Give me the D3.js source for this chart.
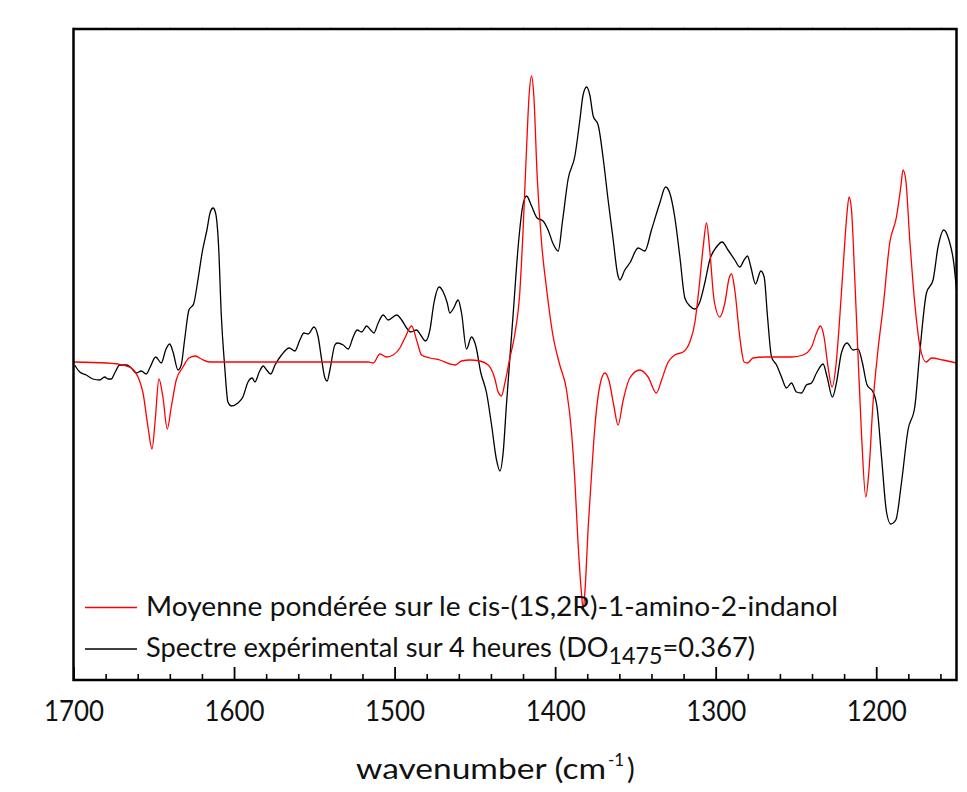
<!DOCTYPE html>
<html>
<head>
<meta charset="utf-8">
<script src="https://cdn.jsdelivr.net/npm/d3@7"></script>
<style>
  html, body { margin: 0; padding: 0; background: #fff; }
  text { font-family: Lato, "Open Sans", sans-serif; fill: #111; }
</style>
</head>
<body>
<svg id="chart" width="967" height="792"></svg>
<script>
// ---------------- DATA ----------------
const xTickValues = [1700, 1600, 1500, 1400, 1300, 1200];
const xTickLabels = ["1700", "1600", "1500", "1400", "1300", "1200"];
const xMinorTicks = d3.range(1700, 1149, -20);

const seriesNames = [
  "Moyenne pondérée sur le cis-(1S,2R)-1-amino-2-indanol",
  "Spectre expérimental sur 4 heures (DO"
];

// calculated weighted mean spectrum (red)
const redWavenumber = [
  1700, 1679.6, 1669.2, 1664.0, 1659.8, 1656.7, 1653.6, 1651.1, 1649.1, 1646.8,
  1644.3, 1641.6, 1639.1, 1636.0, 1631.8, 1628.1, 1623.9, 1620.4, 1615.2, 1516.4,
  1513.3, 1509.1, 1505.0, 1500.9, 1496.7, 1493.6, 1489.4, 1486.3, 1483.2, 1478.0,
  1471.8, 1465.6, 1462.4, 1458.3, 1453.1, 1446.9, 1441.7, 1437.5, 1435.5, 1433.4,
  1431.3, 1428.2, 1425.1, 1422.0, 1419.9, 1417.8, 1416.2, 1414.7, 1413.3, 1411.2,
  1408.5, 1405.4, 1401.2, 1397.1, 1392.9, 1389.8, 1387.7, 1385.7, 1383.6, 1382.6,
  1381.5, 1379.4, 1377.3, 1375.3, 1372.2, 1369.0, 1366.4, 1363.4, 1360.8, 1357.6,
  1353.5, 1347.2, 1342.1, 1336.9, 1333.7, 1329.6, 1325.5, 1320.3, 1316.1, 1313.0,
  1310.5, 1307.8, 1305.7, 1303.7, 1301.0, 1297.4, 1294.3, 1291.6, 1290.1, 1288.1,
  1285.0, 1282.3, 1280.2, 1276.7, 1269.4, 1252.8, 1245.6, 1240.3, 1237.2, 1234.7,
  1232.5, 1230.0, 1227.5, 1225.2, 1222.7, 1220.2, 1218.2, 1216.9, 1215.4, 1213.4,
  1211.3, 1209.2, 1206.5, 1204.5, 1202.0, 1198.9, 1195.7, 1191.6, 1187.4, 1184.7,
  1183.3, 1181.6, 1179.1, 1176.0, 1172.9, 1168.9, 1165.6, 1158.4, 1150.0
];
const redValues = [
  -0.001, -0.002, -0.004, -0.007, -0.016, -0.032, -0.066, -0.088, -0.059, -0.018,
  -0.036, -0.068, -0.046, -0.019, -0.006, 0.003, 0.005, 0.002, -0.001, -0.001,
  -0.002, 0.007, 0.004, 0.006, 0.013, 0.023, 0.035, 0.021, 0.006, 0.003,
  0.001, -0.003, -0.004, 0.000, 0.001, 0.000, -0.004, -0.018, -0.031, -0.035,
  -0.022, 0.003, 0.027, 0.069, 0.133, 0.213, 0.266, 0.285, 0.266, 0.185,
  0.119, 0.073, 0.024, -0.004, -0.029, -0.071, -0.120, -0.183, -0.232, -0.248,
  -0.232, -0.166, -0.113, -0.067, -0.025, -0.012, -0.020, -0.045, -0.064, -0.039,
  -0.017, -0.009, -0.016, -0.032, -0.019, -0.001, 0.006, 0.009, 0.019, 0.038,
  0.071, 0.114, 0.138, 0.111, 0.061, 0.044, 0.058, 0.083, 0.087, 0.071,
  0.024, -0.001, -0.002, 0.003, 0.004, 0.004, 0.006, 0.014, 0.028, 0.035,
  0.024, -0.006, -0.026, -0.006, 0.044, 0.104, 0.148, 0.164, 0.151, 0.084,
  0.004, -0.072, -0.136, -0.109, -0.042, 0.011, 0.054, 0.118, 0.144, 0.174,
  0.191, 0.181, 0.121, 0.058, 0.016, -0.001, 0.003, 0.001, -0.002
];

// experimental spectrum over 4 hours (black)
const blackWavenumber = [
  1699.3, 1696.1, 1692.0, 1687.9, 1683.7, 1680.6, 1678.5, 1676.5, 1674.3, 1671.2,
  1667.1, 1664.0, 1660.9, 1657.8, 1654.7, 1652.2, 1648.8, 1645.3, 1642.6, 1640.1,
  1638.0, 1634.9, 1632.9, 1630.8, 1628.1, 1625.2, 1622.5, 1619.8, 1616.9, 1614.8,
  1613.1, 1611.5, 1609.6, 1608.0, 1605.8, 1603.8, 1601.7, 1597.6, 1594.5, 1591.3,
  1588.7, 1587.0, 1584.3, 1581.8, 1579.7, 1577.2, 1574.5, 1570.4, 1565.6, 1562.1,
  1559.0, 1556.5, 1553.8, 1550.2, 1547.6, 1545.4, 1543.4, 1542.0, 1540.3, 1537.2,
  1535.7, 1532.0, 1528.9, 1525.8, 1523.3, 1520.5, 1517.4, 1514.9, 1512.9, 1510.2,
  1507.1, 1504.0, 1498.7, 1495.6, 1492.5, 1490.0, 1486.3, 1483.8, 1480.7, 1478.0,
  1475.5, 1472.2, 1469.7, 1467.2, 1465.6, 1463.5, 1460.4, 1458.3, 1455.2, 1452.1,
  1449.4, 1446.4, 1442.7, 1439.6, 1436.5, 1434.4, 1432.4, 1430.3, 1428.2, 1426.1,
  1423.0, 1420.3, 1417.8, 1414.7, 1411.2, 1407.5, 1404.4, 1401.2, 1398.1, 1395.4,
  1391.9, 1387.7, 1384.6, 1382.6, 1380.4, 1378.4, 1376.3, 1373.2, 1370.1, 1367.0,
  1363.9, 1361.1, 1359.7, 1356.6, 1353.5, 1348.3, 1344.1, 1340.0, 1334.8, 1331.2,
  1328.6, 1325.5, 1322.3, 1319.2, 1316.1, 1313.0, 1309.9, 1306.8, 1303.7, 1299.5,
  1296.0, 1292.3, 1288.1, 1285.0, 1282.3, 1280.2, 1278.1, 1275.2, 1271.9, 1269.8,
  1267.7, 1265.2, 1262.1, 1259.0, 1255.9, 1252.8, 1249.7, 1246.6, 1243.5, 1240.3,
  1237.2, 1233.1, 1230.6, 1227.3, 1224.8, 1221.7, 1218.2, 1214.4, 1211.3, 1208.6,
  1205.7, 1202.0, 1199.5, 1196.7, 1193.6, 1191.0, 1187.8, 1184.3, 1180.2, 1176.0,
  1172.9, 1168.7, 1164.6, 1161.5, 1157.9, 1154.7, 1151.7, 1150.0
];
const blackValues = [
  -0.004, -0.011, -0.014, -0.018, -0.019, -0.016, -0.018, -0.018, -0.012, -0.004,
  -0.004, -0.007, -0.012, -0.010, -0.013, -0.006, 0.004, -0.002, 0.011, 0.017,
  0.009, -0.009, -0.004, 0.021, 0.051, 0.057, 0.081, 0.109, 0.131, 0.149,
  0.153, 0.148, 0.114, 0.048, -0.006, -0.041, -0.045, -0.042, -0.036, -0.021,
  -0.017, -0.021, -0.011, -0.005, -0.009, -0.013, -0.004, 0.006, 0.013, 0.010,
  0.021, 0.028, 0.027, 0.034, 0.024, 0.001, -0.017, -0.020, -0.009, 0.016,
  0.018, 0.016, 0.012, 0.024, 0.031, 0.029, 0.035, 0.031, 0.028, 0.038,
  0.046, 0.041, 0.046, 0.041, 0.033, 0.029, 0.031, 0.026, 0.020, 0.031,
  0.058, 0.074, 0.069, 0.058, 0.048, 0.052, 0.061, 0.048, 0.012, 0.024,
  0.015, -0.011, -0.032, -0.064, -0.099, -0.110, -0.092, -0.043, 0.003, 0.048,
  0.115, 0.154, 0.165, 0.155, 0.143, 0.140, 0.131, 0.117, 0.110, 0.140,
  0.182, 0.205, 0.241, 0.266, 0.274, 0.266, 0.245, 0.236, 0.203, 0.161,
  0.122, 0.087, 0.081, 0.091, 0.098, 0.113, 0.110, 0.131, 0.158, 0.174,
  0.168, 0.144, 0.104, 0.063, 0.055, 0.052, 0.059, 0.078, 0.101, 0.114,
  0.119, 0.111, 0.101, 0.094, 0.101, 0.105, 0.094, 0.077, 0.090, 0.084,
  0.044, 0.004, -0.004, -0.016, -0.027, -0.022, -0.031, -0.032, -0.024, -0.022,
  -0.012, -0.003, -0.016, -0.036, -0.022, 0.008, 0.018, 0.011, 0.012, -0.002,
  -0.024, -0.031, -0.046, -0.096, -0.151, -0.163, -0.159, -0.122, -0.069, -0.046,
  0.008, 0.068, 0.081, 0.114, 0.131, 0.121, 0.098, 0.071
];

// ---------------- CHART ----------------
const svg = d3.select("#chart");
const W = 967, H = 792;
const m = { left: 73.5, right: 967 - 956.5, top: 29, bottom: 792 - 680 };

const x = d3.scaleLinear().domain([1700, 1150]).range([m.left, W - m.right]);
const y = d3.scaleLinear().domain([-0.319, 0.332]).range([H - m.bottom, m.top]);

svg.append("defs").append("clipPath").attr("id", "clip")
  .append("rect").attr("x", m.left).attr("y", m.top)
  .attr("width", x(1150) - x(1700)).attr("height", y(-0.319) - y(0.332));

const line = d3.line()
  .x(d => x(d[0])).y(d => y(d[1]))
  .curve(d3.curveMonotoneX);

const redData = redWavenumber.map((w, i) => [w, redValues[i]]);
const blackData = blackWavenumber.map((w, i) => [w, blackValues[i]]);

const g = svg.append("g").attr("clip-path", "url(#clip)");
g.append("path").datum(blackData).attr("d", line)
  .attr("fill", "none").attr("stroke", "#000").attr("stroke-width", 1.3);
g.append("path").datum(redData).attr("d", line)
  .attr("fill", "none").attr("stroke", "#ff0000").attr("stroke-width", 1.3);

// top faint ticks
const topAxis = d3.axisTop(x).tickValues(xMinorTicks).tickSize(2).tickFormat("");
const gt = svg.append("g").attr("transform", `translate(0,${m.top})`).call(topAxis);
gt.select(".domain").remove();
gt.selectAll("line").attr("stroke", "#bbb").attr("stroke-width", 1);

// bottom axis with inward ticks
const minorAxis = d3.axisBottom(x).tickValues(xMinorTicks.filter(v => !xTickValues.includes(v)))
  .tickSize(-6).tickFormat("");
const gm = svg.append("g").attr("transform", `translate(0,${H - m.bottom})`).call(minorAxis);
gm.select(".domain").remove();
gm.selectAll("line").attr("stroke", "#000").attr("stroke-width", 1.6);

const majorAxis = d3.axisBottom(x).tickValues(xTickValues)
  .tickSize(-13).tickPadding(21)
  .tickFormat((d, i) => xTickLabels[i]);
const gb = svg.append("g").attr("transform", `translate(0,${H - m.bottom})`).call(majorAxis);
gb.select(".domain").remove();
gb.selectAll("line").attr("stroke", "#000").attr("stroke-width", 1.8);
gb.selectAll("text")
  .attr("font-family", "Lato, sans-serif")
  .attr("font-size", 28).attr("fill", "#111")
  .attr("textLength", 60).attr("lengthAdjust", "spacingAndGlyphs");

// frame
svg.append("rect")
  .attr("x", m.left).attr("y", m.top)
  .attr("width", x(1150) - x(1700)).attr("height", y(-0.319) - y(0.332))
  .attr("fill", "none").attr("stroke", "#000").attr("stroke-width", 2.5);

// x-axis title
svg.append("text").attr("x", 356).attr("y", 779).attr("font-size", 29)
  .attr("textLength", 250).attr("lengthAdjust", "spacingAndGlyphs")
  .text("wavenumber (cm");
svg.append("text").attr("x", 608).attr("y", 766).attr("font-size", 17)
  .text("-1");
svg.append("text").attr("x", 627).attr("y", 779).attr("font-size", 29)
  .text(")");

// legend
const lg = svg.append("g");
lg.append("line").attr("x1", 85).attr("x2", 137).attr("y1", 607.5).attr("y2", 607.5)
  .attr("stroke", "#ff0000").attr("stroke-width", 1.3);
lg.append("text").attr("x", 146).attr("y", 616).attr("font-size", 27)
  .attr("textLength", 692).attr("lengthAdjust", "spacingAndGlyphs")
  .text(seriesNames[0]);
lg.append("line").attr("x1", 85).attr("x2", 137).attr("y1", 649).attr("y2", 649)
  .attr("stroke", "#000").attr("stroke-width", 1.3);
const t2 = lg.append("text").attr("x", 146).attr("y", 657).attr("font-size", 27)
  .attr("textLength", 609).attr("lengthAdjust", "spacingAndGlyphs");
t2.append("tspan").text(seriesNames[1]);
t2.append("tspan").attr("font-size", 23).attr("dy", 7).text("1475");
t2.append("tspan").attr("dy", -7).text("=0.367)");
</script>
</body>
</html>
